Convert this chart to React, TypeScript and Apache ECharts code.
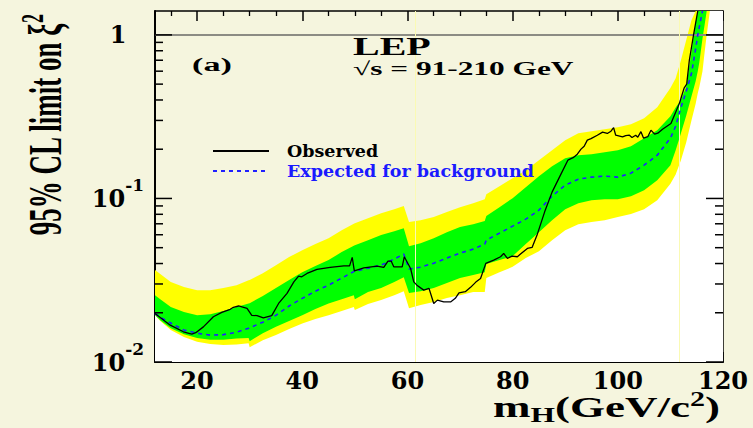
import React, { useEffect, useRef } from 'react';
import * as echarts from 'echarts';

// ---------- data ----------
const X_MIN = 12;
const X_MAX = 120;
const Y_MIN = 0.01;
const Y_MAX = 1.4;

const massGrid = [
  12, 13, 15, 17.5, 20, 22.5, 25, 27.5, 29.8, 30,
  32.5, 35, 37.5, 40, 42.5, 45, 47.5, 49.8, 50, 52.5,
  55, 57.5, 59.3, 60.3, 62.5, 65, 67.5, 70, 72.5, 74.7,
  75, 77.5, 80, 82.5, 85, 87.5, 90, 92.5, 95, 97.5,
  100, 102.5, 105, 107.5, 110, 111, 112, 113, 114, 114.8,
  115.2, 115.5, 116.1, 116.5, 116.9, 117.5, 120,
];

const yellowUpper = [
  0.0365, 0.0345, 0.0308, 0.0287, 0.0275, 0.0275, 0.0283, 0.0295, 0.0316, 0.0317,
  0.0349, 0.0391, 0.0438, 0.0483, 0.0526, 0.0572, 0.064, 0.07, 0.0706, 0.0758,
  0.0813, 0.086, 0.0898, 0.0717, 0.0737, 0.0769, 0.0825, 0.0885, 0.0936, 0.099,
  0.1062, 0.1189, 0.1331, 0.1489, 0.1714, 0.1973, 0.2272, 0.2507, 0.2578, 0.2652,
  0.2728, 0.2846, 0.3096, 0.361, 0.473, 0.544, 0.7, 0.928, 1.23, 1.4,
  1.4, 1.4, 1.4, 1.4, 1.4, 1.4, 1.4,
];

const greenUpper = [
  0.0256, 0.0242, 0.0217, 0.0202, 0.0193, 0.0196, 0.0205, 0.0217, 0.0228, 0.0229,
  0.0253, 0.0283, 0.0317, 0.0354, 0.0386, 0.042, 0.047, 0.0514, 0.0518, 0.0556,
  0.0597, 0.0631, 0.0658, 0.0511, 0.0533, 0.0572, 0.0622, 0.0668, 0.0696, 0.0727,
  0.078, 0.0885, 0.1004, 0.1172, 0.1369, 0.1576, 0.1764, 0.1839, 0.1865, 0.1919,
  0.1973, 0.2087, 0.2336, 0.2615, 0.3185, 0.36, 0.4, 0.48, 0.78, 1.2,
  1.4, 1.4, 1.4, 1.4, 1.4, 1.4, 1.4,
];

const expectedLimit = [
  0.0198, 0.0188, 0.0173, 0.0157, 0.015, 0.0146, 0.0147, 0.0152, 0.0161, 0.0162,
  0.0175, 0.0193, 0.022, 0.0245, 0.0271, 0.0295, 0.0326, 0.0357, 0.0359, 0.0375,
  0.0391, 0.0426, 0.0457, 0.037, 0.038, 0.0402, 0.0432, 0.0463, 0.049, 0.0526,
  0.0556, 0.0614, 0.0677, 0.0747, 0.0848, 0.1033, 0.1206, 0.1312, 0.135, 0.1369,
  0.135, 0.1428, 0.1598, 0.1839, 0.2336, 0.2766, 0.36, 0.45, 0.58, 0.82,
  1.0, 1.12, 1.4,
];

const greenLower = [
  0.0193, 0.018, 0.0161, 0.0148, 0.014, 0.0137, 0.0137, 0.0139, 0.014, 0.0134,
  0.015, 0.0164, 0.0178, 0.0193, 0.0211, 0.0228, 0.0242, 0.0256, 0.0242, 0.0268,
  0.0283, 0.0308, 0.033, 0.0264, 0.0271, 0.0283, 0.0304, 0.0326, 0.034, 0.0354,
  0.0397, 0.042, 0.0444, 0.0526, 0.0622, 0.0737, 0.086, 0.0936, 0.0976, 0.099,
  0.099, 0.1033, 0.1124, 0.1294, 0.1598, 0.1973, 0.25, 0.32, 0.42, 0.52,
  0.6, 0.68, 0.95, 1.15, 1.4, 1.4, 1.4,
];

const yellowLower = [
  0.0193, 0.0178, 0.0157, 0.0142, 0.0133, 0.0129, 0.0127, 0.0128, 0.013, 0.0123,
  0.0136, 0.0146, 0.0159, 0.0172, 0.0183, 0.0193, 0.0205, 0.0217, 0.0208, 0.0226,
  0.0239, 0.0256, 0.0271, 0.0213, 0.0223, 0.0233, 0.0246, 0.0256, 0.0268, 0.0268,
  0.0326, 0.0354, 0.0382, 0.0432, 0.0476, 0.0556, 0.064, 0.0696, 0.0717, 0.0737,
  0.0769, 0.0802, 0.086, 0.0976, 0.123, 0.14, 0.171, 0.22, 0.3, 0.38,
  0.44, 0.48, 0.6, 0.78, 1.0, 1.4, 1.4,
];

const observedMass = [
  12.0, 14.9, 17.4, 19.0, 19.75, 21.2, 23.1, 24.7, 26.3, 26.9,
  27.9, 29.5, 30.4, 31.4, 32.6, 34.2, 35.5, 37.1, 38.4, 39.3,
  39.9, 40.9, 42.8, 45.3, 47.9, 49.0, 49.5, 49.9, 51.7, 54.2,
  55.5, 56.3, 56.9, 57.4, 59.0, 59.4, 60.6, 61.2, 61.8, 63.1,
  64.1, 65.0, 65.7, 66.9, 68.2, 69.1, 69.8, 71.0, 72.0, 73.0,
  73.9, 74.9, 76.4, 77.7, 78.3, 79.0, 79.9, 80.9, 81.5, 82.8,
  83.7, 84.7, 86.2, 87.5, 89.0, 90.5, 91.5, 92.3, 93.0, 93.6,
  94.2, 94.9, 96.1, 97.1, 98.0, 98.7, 99.2, 99.6, 100.9, 101.5,
  102.2, 102.7, 103.4, 103.8, 104.4, 104.9, 105.7, 106.3, 107.0, 107.6,
  108.5, 110.1, 111.0, 111.7, 112.6, 113.1, 113.6, 114.4, 115.2,
];

const observedLimit = [
  0.0198, 0.0168, 0.0153, 0.0148, 0.0151, 0.0164, 0.0189, 0.0201, 0.021, 0.0216,
  0.022, 0.0213, 0.0193, 0.0192, 0.0186, 0.0192, 0.0228, 0.0263, 0.0309, 0.0335,
  0.0332, 0.0348, 0.0368, 0.0379, 0.0387, 0.0387, 0.0436, 0.0361, 0.0376, 0.0386,
  0.0379, 0.0414, 0.0414, 0.0382, 0.0382, 0.044, 0.0373, 0.0309, 0.0295, 0.0275,
  0.0282, 0.0228, 0.0239, 0.0233, 0.0233, 0.0245, 0.0265, 0.0269, 0.0286, 0.0308,
  0.0324, 0.0401, 0.042, 0.044, 0.0461, 0.043, 0.0444, 0.044, 0.0457, 0.0495,
  0.0502, 0.0605, 0.0848, 0.1093, 0.1369, 0.1714, 0.1776, 0.1865, 0.2002, 0.2087,
  0.2272, 0.232, 0.2436, 0.2542, 0.2496, 0.2578, 0.2709, 0.2436, 0.2378, 0.2421,
  0.2436, 0.236, 0.2436, 0.237, 0.256, 0.2336, 0.2385, 0.2615, 0.2472, 0.2507,
  0.2652, 0.287, 0.337, 0.381, 0.472, 0.5, 0.7, 1.0, 1.4,
];

const xTickLabels = [20, 40, 60, 80, 100, 120];
const yMajorTicks = [0.01, 0.1, 1];
const yMinorTicks = [
  0.02, 0.03, 0.04, 0.05, 0.06, 0.07, 0.08, 0.09,
  0.2, 0.3, 0.4, 0.5, 0.6, 0.7, 0.8, 0.9,
];
const referenceLevel = 1;
const verticalMarks = [61.4, 111.7];

// ---------- styling constants ----------
const CREAM = '#f5f5de';
const SERIF = 'Liberation Serif';
const LABEL_FONT = 'DejaVu Serif';

export default function App() {
  const ref = useRef<HTMLDivElement>(null);

  useEffect(() => {
    document.body.style.margin = '0';
    if (!ref.current) return;
    const chart = echarts.init(ref.current, undefined, { renderer: 'svg' });

    const band = (name: string, ys: number[], color: string, extra: any = {}) => ({
      name,
      type: 'line',
      data: massGrid.map((x, i) => [x, ys[i]]),
      symbol: 'none',
      silent: true,
      z: 1,
      lineStyle: { width: 0, opacity: 0 },
      itemStyle: { color },
      areaStyle: { color, opacity: 1, origin: 'start' },
      ...extra,
    });

    const xAxisBase = {
      type: 'value',
      min: X_MIN,
      max: X_MAX,
      splitNumber: 5,
      splitLine: { show: false },
      axisTick: { show: true, inside: true, length: 10, lineStyle: { color: '#000', width: 1.5 } },
      minorTick: { show: true, splitNumber: 4, length: 5, lineStyle: { color: '#000', width: 1.3 } },
    };

    const yAxisBase = {
      type: 'log',
      logBase: 10,
      min: Y_MIN,
      max: Y_MAX,
      splitLine: { show: false },
      axisTick: { show: false },
      minorTick: { show: false },
    };

    chart.setOption({
      animation: false,
      backgroundColor: CREAM,
      grid: {
        left: 155,
        top: 11,
        right: 30,
        bottom: 66,
        containLabel: false,
        outerBoundsMode: 'none',
      },
      xAxis: [
        {
          ...xAxisBase,
          position: 'bottom',
          axisLine: { show: true, onZero: false, lineStyle: { color: '#000', width: 2 } },
          axisLabel: {
            show: true,
            margin: 6,
            color: '#000',
            fontFamily: LABEL_FONT,
            fontWeight: 'bold',
            fontSize: 24,
            formatter: (v: number) => (xTickLabels.includes(v) ? String(v) : ''),
          },
        },
        {
          ...xAxisBase,
          position: 'top',
          axisLine: { show: true, onZero: false, lineStyle: { color: '#000', width: 1.5 } },
          axisLabel: { show: false },
        },
      ],
      yAxis: [
        {
          ...yAxisBase,
          position: 'left',
          axisLine: { show: true, onZero: false, lineStyle: { color: '#000', width: 2 } },
          axisLabel: {
            show: true,
            align: 'center',
            margin: 37,
            formatter: (v: number) => {
              const lg = Math.log10(v);
              const e = Math.round(lg);
              if (Math.abs(lg - e) > 1e-6) return '';
              if (!yMajorTicks.some((t) => Math.abs(Math.log10(t) - e) < 1e-6)) return '';
              if (e === 0) return '{n|1}';
              return `{n|10}{e|${e}}`;
            },
            rich: {
              n: { fontFamily: LABEL_FONT, fontWeight: 'bold', fontSize: 24, color: '#000', lineHeight: 44 },
              e: { fontFamily: LABEL_FONT, fontWeight: 'bold', fontSize: 17, color: '#000', lineHeight: 18, verticalAlign: 'top' },
            },
          },
        },
        {
          ...yAxisBase,
          position: 'right',
          axisLine: { show: true, onZero: false, lineStyle: { color: '#000', width: 1.5 } },
          axisLabel: { show: false },
        },
      ],
      legend: {
        data: ['Observed', 'Expected for background'],
        orient: 'vertical',
        left: 212,
        top: 142,
        padding: 0,
        itemWidth: 56,
        itemHeight: 14,
        itemGap: 2,
        selectedMode: false,
        itemStyle: { opacity: 0 },
        formatter: (name: string) => (name === 'Observed' ? `{o|${name}}` : `{b|${name}}`),
        textStyle: {
          rich: {
            o: { fontFamily: LABEL_FONT, fontWeight: 'bold', fontSize: 17.5, color: '#000', lineHeight: 14, padding: [0, 0, 0, 13] },
            b: { fontFamily: LABEL_FONT, fontWeight: 'bold', fontSize: 17.5, color: '#1a1aff', lineHeight: 14, padding: [0, 0, 0, 13] },
          },
        },
      },
      series: [
        band('2σ upper', yellowUpper, '#ffff00'),
        band('1σ upper', greenUpper, '#00ff00'),
        band('1σ lower', greenLower, '#ffff00'),
        band('2σ lower', yellowLower, '#ffffff', {
          markLine: {
            silent: true,
            symbol: ['none', 'none'],
            label: { show: false },
            data: [
              { yAxis: referenceLevel, lineStyle: { color: '#8c8c84', width: 2, type: 'solid' } },
              ...verticalMarks.map((m) => ({ xAxis: m, lineStyle: { color: '#fafab4', width: 1, type: 'solid' } })),
            ],
          },
        }),
        {
          name: 'Expected for background',
          type: 'line',
          data: expectedLimit.map((v, i) => [massGrid[i], v]),
          symbol: 'none',
          symbolSize: 0,
          silent: true,
          z: 6,
          itemStyle: { color: '#2020ff' },
          lineStyle: { color: '#2020ff', width: 1.6, type: [4, 4] },
        },
        {
          name: 'Observed',
          type: 'line',
          data: observedMass.map((m, i) => [m, observedLimit[i]]),
          symbol: 'none',
          symbolSize: 0,
          silent: true,
          z: 7,
          itemStyle: { color: '#000' },
          lineStyle: { color: '#000', width: 1.3 },
        },
        {
          name: 'y ticks',
          type: 'custom',
          silent: true,
          z: 8,
          clip: false,
          data: [
            ...yMajorTicks.map((v) => [X_MIN, v, 1]),
            ...yMinorTicks.map((v) => [X_MIN, v, 0]),
          ],
          encode: { x: 0, y: 1 },
          renderItem: (_params: any, api: any) => {
            const v = api.value(1);
            const len = api.value(2) === 1 ? 17 : 8;
            const l = api.coord([X_MIN, v]);
            const r = api.coord([X_MAX, v]);
            return {
              type: 'group',
              children: [
                { type: 'line', shape: { x1: l[0], y1: l[1], x2: l[0] + len, y2: l[1] }, style: { stroke: '#000', lineWidth: 1.5 } },
                { type: 'line', shape: { x1: r[0] - len, y1: r[1], x2: r[0], y2: r[1] }, style: { stroke: '#000', lineWidth: 1.5 } },
              ],
            };
          },
        },
      ],
      graphic: [
        {
          type: 'text',
          x: 45,
          y: 125,
          rotation: Math.PI / 2,
          scaleY: 1.75,
          z: 100,
          style: {
            text: '{a|95% CL limit on ξ}{s|2}',
            align: 'center',
            verticalAlign: 'middle',
            rich: {
              a: { fontFamily: SERIF, fontWeight: 'bold', fontSize: 27, fill: '#000', lineHeight: 32 },
              s: { fontFamily: SERIF, fontWeight: 'bold', fontSize: 18, fill: '#000', lineHeight: 16, verticalAlign: 'top' },
            },
          },
        },
        {
          type: 'text',
          x: 720,
          y: 407,
          scaleX: 1.5,
          z: 100,
          style: {
            text: '{m|m}{h|H}{m|(GeV/c}{p|2}{m|)}',
            align: 'right',
            verticalAlign: 'middle',
            rich: {
              m: { fontFamily: SERIF, fontWeight: 'bold', fontSize: 30, fill: '#000', lineHeight: 36 },
              h: { fontFamily: SERIF, fontWeight: 'bold', fontSize: 21, fill: '#000', lineHeight: 20, verticalAlign: 'bottom' },
              p: { fontFamily: SERIF, fontWeight: 'bold', fontSize: 20, fill: '#000', lineHeight: 20, verticalAlign: 'top' },
            },
          },
        },
        {
          type: 'text',
          x: 192,
          y: 64.5,
          scaleX: 1.8,
          z: 100,
          style: {
            text: '(a)',
            fontFamily: SERIF,
            fontWeight: 'bold',
            fontSize: 19,
            fill: '#000',
            align: 'left',
            verticalAlign: 'middle',
          },
        },
        {
          type: 'text',
          x: 353,
          y: 46.5,
          scaleX: 1.6,
          z: 100,
          style: {
            text: 'LEP',
            fontFamily: SERIF,
            fontWeight: 'bold',
            fontSize: 25,
            fill: '#000',
            align: 'left',
            verticalAlign: 'middle',
          },
        },
        {
          type: 'text',
          x: 353,
          y: 68.5,
          scaleX: 1.65,
          z: 100,
          style: {
            text: '√s = 91-210 GeV',
            fontFamily: SERIF,
            fontWeight: 'bold',
            fontSize: 19,
            fill: '#000',
            align: 'left',
            verticalAlign: 'middle',
          },
        },
      ],
    });

    return () => chart.dispose();
  }, []);

  return <div ref={ref} style={{ width: 753, height: 428, background: CREAM }} />;
}
